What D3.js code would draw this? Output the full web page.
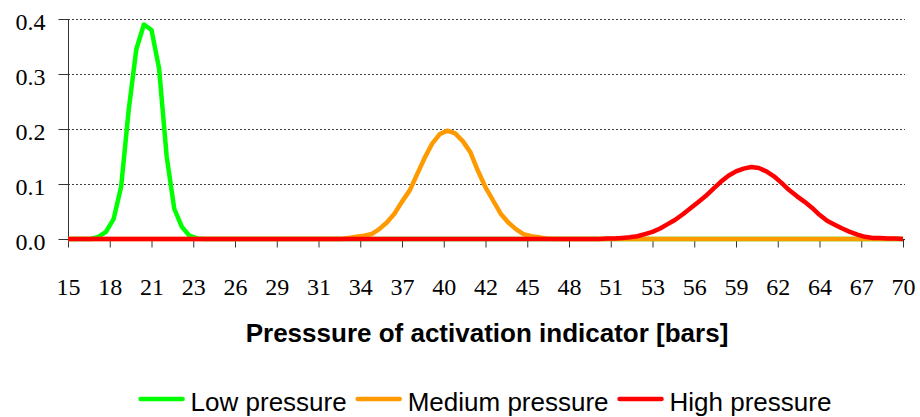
<!DOCTYPE html>
<html lang="en">
<head>
  <meta charset="UTF-8">
  <title>Pressure of activation indicator</title>
  <style>
    body {
      margin: 0;
      padding: 0;
      background-color: white;
    }
    .grid line {
      stroke: #404040;
      stroke-width: 1;
      stroke-dasharray: 2,2;
    }
    .axis-title {
      font-family: "Liberation Sans", Arial, sans-serif;
      font-size: 26px;
      font-weight: bold;
    }
    .legend-text {
      font-family: "Liberation Sans", Arial, sans-serif;
      font-size: 26px;
    }
    .series {
      fill: none;
      stroke-width: 4.5;
      stroke-linejoin: round;
    }
  </style>
</head>
<body>
  <div id="chart"></div>

  <script src="https://d3js.org/d3.v7.min.js"></script>
  <script>
    // pressure (bars), one reading every 0.5 bar from 15 to 70
    var pressure = [
      15, 15.5, 16, 16.5, 17, 17.5, 18, 18.5, 19, 19.5,
      20, 20.5, 21, 21.5, 22, 22.5, 23, 23.5, 24, 24.5,
      25, 25.5, 26, 26.5, 27, 27.5, 28, 28.5, 29, 29.5,
      30, 30.5, 31, 31.5, 32, 32.5, 33, 33.5, 34, 34.5,
      35, 35.5, 36, 36.5, 37, 37.5, 38, 38.5, 39, 39.5,
      40, 40.5, 41, 41.5, 42, 42.5, 43, 43.5, 44, 44.5,
      45, 45.5, 46, 46.5, 47, 47.5, 48, 48.5, 49, 49.5,
      50, 50.5, 51, 51.5, 52, 52.5, 53, 53.5, 54, 54.5,
      55, 55.5, 56, 56.5, 57, 57.5, 58, 58.5, 59, 59.5,
      60, 60.5, 61, 61.5, 62, 62.5, 63, 63.5, 64, 64.5,
      65, 65.5, 66, 66.5, 67, 67.5, 68, 68.5, 69, 69.5,
      70
    ];

    var lowPressure = [
      0, 0, 0, 0, 0.004, 0.013, 0.036, 0.095, 0.235, 0.345,
      0.39, 0.38, 0.31, 0.15, 0.055, 0.022, 0.006, 0.001, 0, 0,
      0, 0, 0, 0, 0, 0, 0, 0, 0, 0,
      0, 0, 0, 0, 0, 0, 0, 0, 0, 0,
      0, 0, 0, 0, 0, 0, 0, 0, 0, 0,
      0, 0, 0, 0, 0, 0, 0, 0, 0, 0,
      0, 0, 0, 0, 0, 0, 0, 0, 0, 0,
      0, 0, 0, 0, 0, 0, 0, 0, 0, 0,
      0, 0, 0, 0, 0, 0, 0, 0, 0, 0,
      0, 0, 0, 0, 0, 0, 0, 0, 0, 0,
      0, 0, 0, 0, 0, 0, 0, 0, 0, 0,
      0
    ];

    var mediumPressure = [
      0, 0, 0, 0, 0, 0, 0, 0, 0, 0,
      0, 0, 0, 0, 0, 0, 0, 0, 0, 0,
      0, 0, 0, 0, 0, 0, 0, 0, 0, 0,
      0, 0, 0, 0, 0, 0, 0, 0.002, 0.004, 0.006,
      0.009, 0.018, 0.03, 0.046, 0.068, 0.088, 0.118, 0.148, 0.174, 0.191,
      0.197, 0.192, 0.178, 0.158, 0.124, 0.094, 0.07, 0.046, 0.03, 0.018,
      0.009, 0.005, 0.003, 0.001, 0, 0, 0, 0, 0, 0,
      0, 0, 0, 0, 0, 0, 0, 0, 0, 0,
      0, 0, 0, 0, 0, 0, 0, 0, 0, 0,
      0, 0, 0, 0, 0, 0, 0, 0, 0, 0,
      0, 0, 0, 0, 0, 0, 0, 0, 0, 0,
      0
    ];

    var highPressure = [
      0, 0, 0, 0, 0, 0, 0, 0, 0, 0,
      0, 0, 0, 0, 0, 0, 0, 0, 0, 0,
      0, 0, 0, 0, 0, 0, 0, 0, 0, 0,
      0, 0, 0, 0, 0, 0, 0, 0, 0, 0,
      0, 0, 0, 0, 0, 0, 0, 0, 0, 0,
      0, 0, 0, 0, 0, 0, 0, 0, 0, 0,
      0, 0, 0, 0, 0, 0, 0, 0, 0, 0,
      0, 0.001, 0.001, 0.002, 0.003, 0.005, 0.009, 0.013, 0.019, 0.027,
      0.035, 0.045, 0.056, 0.067, 0.078, 0.091, 0.104, 0.115, 0.123, 0.128,
      0.131, 0.129, 0.123, 0.114, 0.102, 0.089, 0.078, 0.068, 0.057, 0.044,
      0.033, 0.026, 0.019, 0.013, 0.008, 0.004, 0.002, 0.002, 0.001, 0.001,
      0
    ];

    var seriesNames = ["Low pressure", "Medium pressure", "High pressure"];
    var seriesColors = ["#00ff00", "#ff9900", "#ff0000"];
    var seriesValues = [lowPressure, mediumPressure, highPressure];

    // category labels shown under the axis (every 2.75 bar)
    var xTickLabels = ["15", "18", "21", "23", "26", "29", "31", "34", "37", "40", "42",
                       "45", "48", "51", "53", "56", "59", "62", "64", "67", "70"];
    var yTicks = [0, 0.1, 0.2, 0.3, 0.4];

    var width = 920, height = 417;
    var plotLeft = 68, plotRight = 903, plotTop = 19, plotBottom = 239;
    var serif = '"Liberation Serif", "Times New Roman", serif';

    var svg = d3.select("#chart").append("svg")
                .attr("width", width)
                .attr("height", height);

    var x = d3.scaleLinear()
              .domain([pressure[0], pressure[pressure.length - 1]])
              .range([plotLeft, plotRight]);

    var y = d3.scaleLinear()
              .domain([0, 0.4])
              .range([plotBottom, plotTop]);

    var tickStep = (x.domain()[1] - x.domain()[0]) / (xTickLabels.length - 1);

    // dotted gridlines
    svg.append("g")
       .attr("class", "grid")
       .selectAll("line")
       .data(yTicks.slice(1))
       .enter().append("line")
       .attr("x1", plotLeft)
       .attr("x2", plotRight + 2)
       .attr("y1", function(d) { return Math.round(y(d)) + 0.5; })
       .attr("y2", function(d) { return Math.round(y(d)) + 0.5; });

    // y axis
    var yAxis = svg.append("g")
                   .attr("transform", "translate(" + (plotLeft + 0.5) + ",0)")
                   .attr("font-family", serif)
                   .attr("font-size", 24)
                   .call(d3.axisLeft(y).tickValues(yTicks).tickSize(10).tickFormat(d3.format(".1f")));
    yAxis.attr("font-family", serif).attr("font-size", 24);
    yAxis.select(".domain").attr("stroke", "#333").attr("d", "M0," + plotTop + "V" + plotBottom);
    yAxis.selectAll(".tick line").attr("stroke", "#333");
    yAxis.selectAll(".tick text")
         .style("font-family", serif)
         .style("font-size", "24px")
         .attr("fill", "black")
         .attr("x", -23)
         .attr("dy", "0.43em");

    // x axis
    var xAxis = svg.append("g")
                   .attr("transform", "translate(0," + (plotBottom + 0.5) + ")")
                   .call(d3.axisBottom(x)
                           .tickValues(d3.range(xTickLabels.length).map(function(i) { return x.domain()[0] + i * tickStep; }))
                           .tickSize(8)
                           .tickFormat(function(d, i) { return xTickLabels[i]; }));
    xAxis.attr("font-family", serif).attr("font-size", 24);
    xAxis.select(".domain").attr("stroke", "#333").attr("d", "M" + plotLeft + ",0H" + (plotRight + 2));
    xAxis.selectAll(".tick line").attr("stroke", "#333");
    xAxis.selectAll(".tick text")
         .style("font-family", serif)
         .style("font-size", "24px")
         .attr("fill", "black")
         .attr("y", 55)
         .attr("dy", 0);

    // lines
    var line = d3.line()
                 .x(function(d, i) { return x(pressure[i]); })
                 .y(function(d) { return y(d); });

    svg.selectAll(".series")
       .data(seriesValues)
       .enter().append("path")
       .attr("class", "series")
       .attr("stroke", function(d, i) { return seriesColors[i]; })
       .attr("d", line);

    // axis title
    svg.append("text")
       .attr("class", "axis-title")
       .attr("x", 487)
       .attr("y", 342)
       .attr("text-anchor", "middle")
       .text("Presssure of activation indicator [bars]");

    // legend
    var legend = svg.append("g").attr("class", "legend");
    var cursor = 0;
    seriesNames.forEach(function(name, i) {
      var item = legend.append("g").attr("transform", "translate(" + cursor + ",0)");
      item.append("line")
          .attr("x1", 2).attr("x2", 44)
          .attr("y1", 399).attr("y2", 399)
          .attr("stroke", seriesColors[i])
          .attr("stroke-width", 4.5)
          .attr("stroke-linecap", "round");
      var t = item.append("text")
                  .attr("class", "legend-text")
                  .attr("x", 52)
                  .attr("y", 411)
                  .text(name);
      cursor += 52 + t.node().getComputedTextLength() + 9;
    });
    var legendWidth = cursor - 9;
    legend.attr("transform", "translate(" + (485 - legendWidth / 2) + ",0)");
  </script>
</body>
</html>
